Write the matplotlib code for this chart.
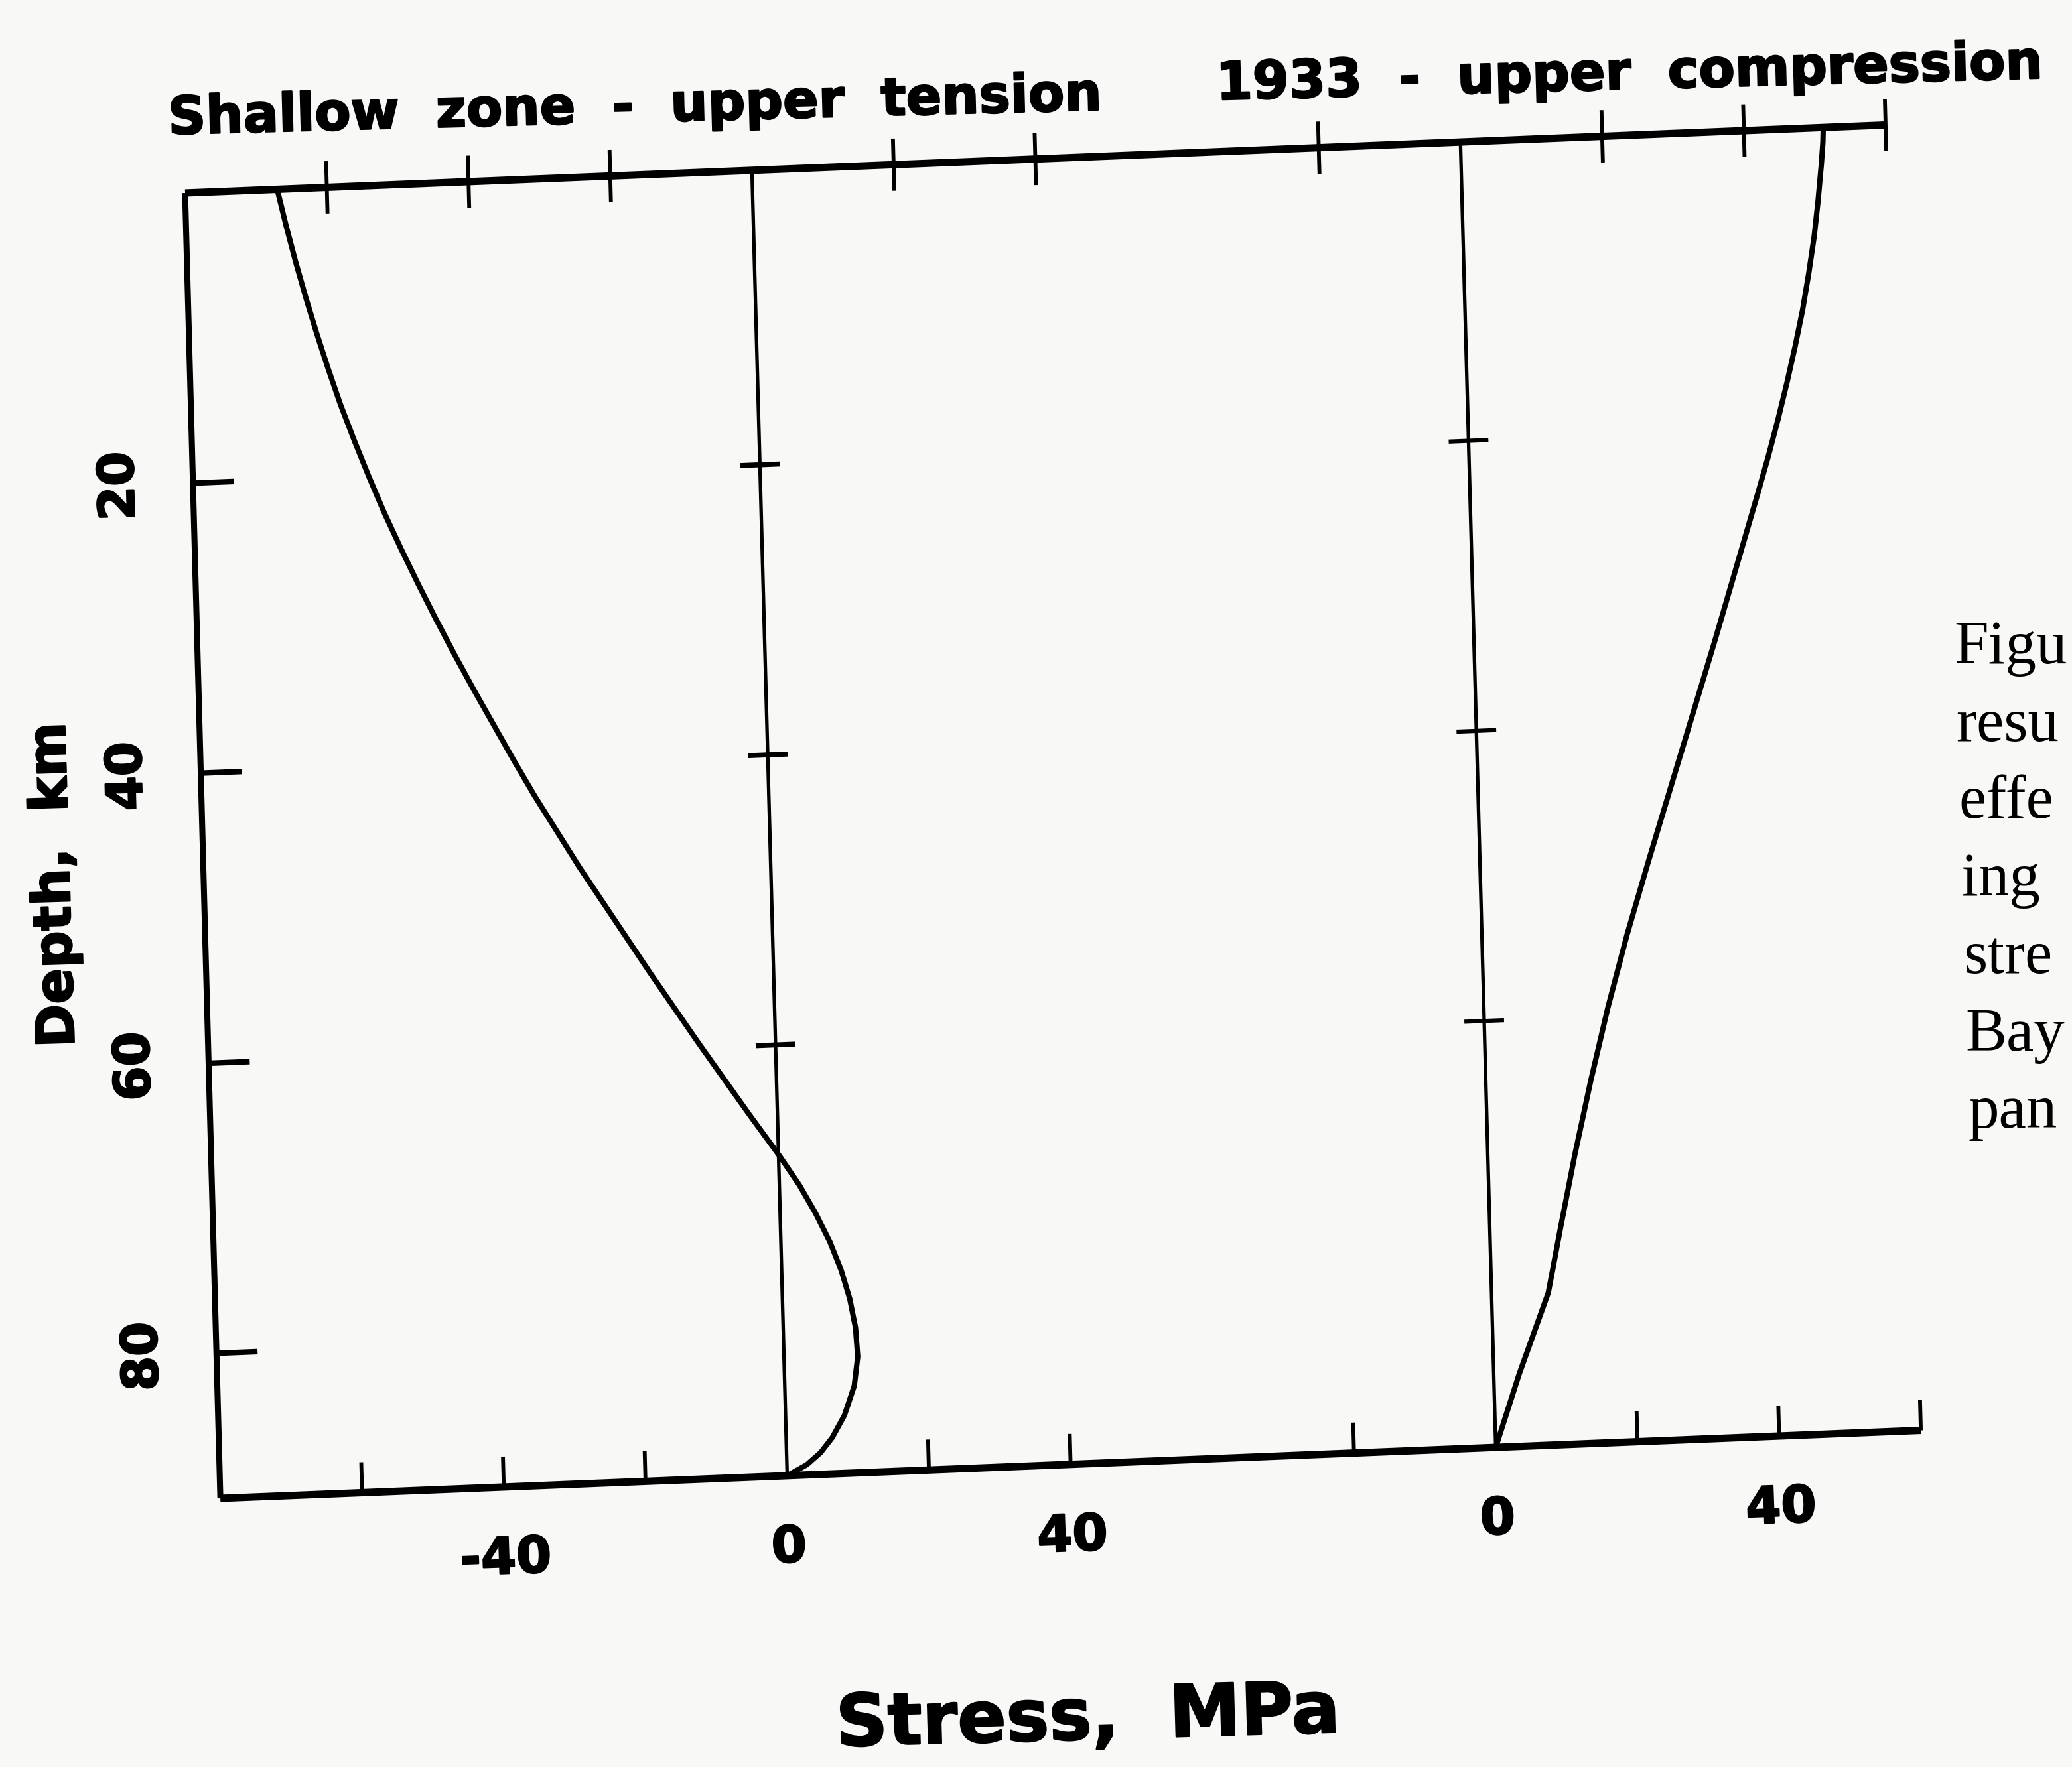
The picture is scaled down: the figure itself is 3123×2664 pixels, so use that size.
import numpy as np
import matplotlib
matplotlib.use('Agg')
import matplotlib.pyplot as plt
import matplotlib.patheffects as pe
from matplotlib.transforms import Affine2D

# stress profiles (depth in km, stress in MPa)
depth_shallow = [0, 2.5, 5, 7.5, 10, 12.5, 15, 17.5, 20, 22.5, 25, 27.5, 30,
                 32.5, 35, 37.5, 40, 42.5, 45, 47.5, 50, 52.5, 55, 57.5, 60,
                 62.5, 65, 66, 68, 70, 72, 74, 76, 78, 80, 82, 84, 86, 87.5,
                 88.5, 89.3, 90]
stress_shallow = [-67, -65.9, -64.7, -63.4, -62.0, -60.5, -58.9, -57.1, -55.2,
                  -53.2, -51.0, -48.7, -46.3, -43.8, -41.2, -38.5, -35.8,
                  -33.0, -30.0, -27.0, -23.8, -20.6, -17.4, -14.1, -10.8,
                  -7.4, -4.0, -2.6, 0.2, 2.8, 5.0, 6.9, 8.4, 9.5, 10.2, 10.4,
                  9.8, 8.3, 6.5, 4.8, 2.8, 0]

depth_1933 = [0, 1, 2.5, 5, 7.5, 10, 12.5, 15, 17.5, 20, 22.5, 25, 30, 35, 40,
              45, 50, 55, 60, 65, 70, 75, 79.5, 85, 90]
stress_1933 = [51.2, 51.1, 50.8, 50.2, 49.5, 48.6, 47.6, 46.4, 45.1, 43.7,
               42.2, 40.6, 37.3, 34.0, 30.6, 27.2, 23.8, 20.5, 17.5, 14.8,
               12.3, 10.0, 8.0, 3.6, 0]

# axis ticks and labels
depth_ticks = [20, 40, 60, 80]
zero_line_ticks = [20, 40, 60]
left_stress_ticks = [-60, -40, -20, 20, 40]
right_stress_ticks = [-20, 20, 40, 60]
left_stress_labels = [-40, 0, 40]
right_stress_labels = [0, 40]
caption_lines = ['Figu', 'resu', 'effe', 'ing', 'stre', 'Bay', 'pan']

RIGHT_ZERO = 100      # the 1933 panel is drawn with its zero at +100 on the shared scale
XMIN, XMAX = -80, 160
DMAX = 90

W, H = 3123, 2664
plt.rcParams['font.family'] = ['DejaVu Sans']
heavy = [pe.withStroke(linewidth=1.8, foreground='black')]

fig = plt.figure(figsize=(W / 100, H / 100), dpi=100, facecolor='#f8f8f6')
# unskewed frame of the plot, in pixels
px, py = 279, 2373
ax = fig.add_axes([px / W, (py - 1968) / H, 2563 / W, 1968 / H])
ax.set_autoscale_on(False)
ax.set_xlim(XMIN, XMAX)
ax.set_ylim(DMAX, 0)
ax.axis('off')
ax.patch.set_alpha(0)

# the scanned page is slightly skewed: mimic it with an affine in pixel space
kx, ky = 0.027, 0.040
skew = (Affine2D().translate(-px, -py)
        + Affine2D(np.array([[1.0, -kx, 0.0], [ky, 1.0, 0.0], [0.0, 0.0, 1.0]]))
        + Affine2D().translate(px, py))
T = ax.transData + skew

def line(xs, ys, lw, **kw):
    ax.plot(xs, ys, color='black', lw=lw, transform=T, clip_on=False,
            solid_capstyle='butt', solid_joinstyle='round', **kw)

# frame: top, bottom, left
line([XMIN, XMAX], [0, 0], 8)
line([XMIN, XMAX], [DMAX, DMAX], 8)
line([XMIN, XMIN], [0, DMAX], 6.5)

# zero lines of both panels
line([0, 0], [0, DMAX], 3.8)
line([RIGHT_ZERO, RIGHT_ZERO], [0, DMAX], 3.8)

# ticks on top (crossing) and bottom (inward)
top_ticks = left_stress_ticks + [RIGHT_ZERO + t for t in right_stress_ticks]
for t in top_ticks:
    line([t, t], [-1.8, 1.8], 4.2)
for t in top_ticks:
    line([t, t], [DMAX, DMAX - 2.1], 4.2)

# depth ticks on left spine and across the zero lines
for d in depth_ticks:
    line([XMIN, XMIN + 5.8], [d, d], 6)
for d in zero_line_ticks:
    line([-2.8, 2.8], [d + 0.3, d + 0.3], 5.5)
    line([RIGHT_ZERO - 2.8, RIGHT_ZERO + 2.8], [d + 0.6, d + 0.6], 4.5)

# profiles
line(stress_shallow, depth_shallow, 5.8)
line([RIGHT_ZERO + s for s in stress_1933], depth_1933, 5.8)

# tick labels
for v in left_stress_labels:
    ax.text(v, DMAX + 5.0, str(v), transform=T, ha='center', va='center',
            fontsize=55, fontweight='bold', rotation=2.0, rotation_mode='anchor',
            path_effects=heavy)
for v in right_stress_labels:
    ax.text(RIGHT_ZERO + v, DMAX + 5.0, str(v), transform=T, ha='center',
            va='center', fontsize=55, fontweight='bold', rotation=2.0,
            rotation_mode='anchor', path_effects=heavy)
for d in depth_ticks:
    ax.text(XMIN - 10.3, d, str(d), transform=T, ha='center', va='center',
            fontsize=54, fontweight='bold', rotation=91.5, rotation_mode='anchor',
            path_effects=heavy)

ax.text(XMIN - 21.0, 47.3, 'Depth,  km', transform=T, ha='center', va='center',
        fontsize=57, fontweight='bold', rotation=91.7, rotation_mode='anchor',
        path_effects=heavy)

# panel titles and axis title
fig.text(956 / W, 1 - 162 / H, 'Shallow  zone  -  upper  tension', ha='center',
         va='center', fontsize=57, fontweight='bold', rotation=1.5,
         rotation_mode='anchor', path_effects=heavy)
fig.text(2455 / W, 1 - 112 / H, '1933  -  upper  compression', ha='center',
         va='center', fontsize=57, fontweight='bold', rotation=1.5,
         rotation_mode='anchor', path_effects=heavy)
fig.text(1640 / W, 1 - 2592 / H, 'Stress,  MPa', ha='center', va='center',
         fontsize=78, fontweight='bold', rotation=1.6, rotation_mode='anchor',
         path_effects=heavy)

# caption of the page, cut by the right edge of the scan
for i, s in enumerate(caption_lines):
    fig.text((2945 + 3.5 * i) / W, 1 - (1000 + 116.7 * i) / H, s,
             ha='left', va='baseline', fontsize=67, family='Liberation Serif')

fig.savefig('out.png', dpi=100, facecolor=fig.get_facecolor())
